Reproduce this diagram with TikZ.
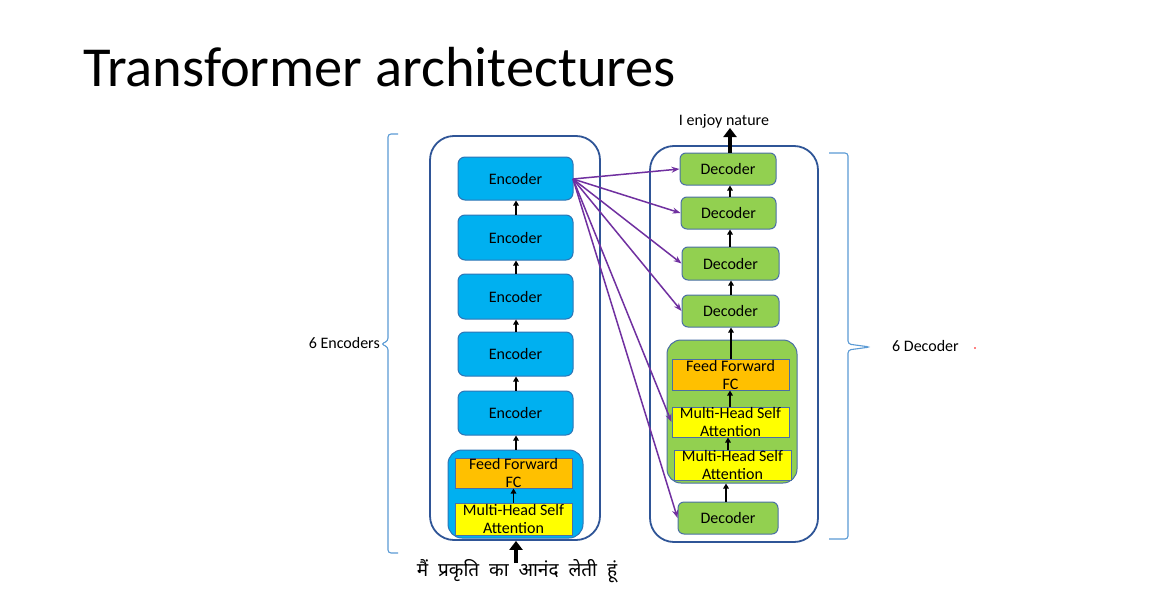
\documentclass[tikz,border=0pt]{standalone}
\usepackage{fontspec}
\setmainfont{Carlito}
\newfontfamily\deva[Script=Devanagari, WordSpace=2]{Noto Sans}
\usetikzlibrary{arrows.meta}

\definecolor{navy}{HTML}{2F5597}
\definecolor{encfill}{HTML}{00B0F0}
\definecolor{encline}{HTML}{2E75B6}
\definecolor{decfill}{HTML}{92D050}
\definecolor{decline}{HTML}{4A6FA5}
\definecolor{ffcol}{HTML}{FFC000}
\definecolor{attcol}{HTML}{FFFF00}
\definecolor{crossc}{HTML}{7030A0}
\definecolor{bracec}{HTML}{5B9BD5}

\tikzset{
  lbl/.style={font=\fontsize{16}{18}\selectfont, align=center, inner sep=0pt},
  outerbox/.style={draw=navy, line width=1.8pt, rounded corners=24pt, inner sep=0pt},
  encbox/.style={draw=encline, fill=encfill, line width=1pt, rounded corners=7pt,
    minimum width=115pt, inner sep=0pt, lbl},
  decbox/.style={draw=decline, fill=decfill, line width=1pt, rounded corners=6pt,
    inner sep=0pt, lbl},
  blockbox/.style={draw=decline, line width=1pt, rounded corners=14pt, inner sep=0pt},
  subbox/.style={draw=decline, line width=1pt, minimum width=117pt, inner sep=0pt},
  flow/.style={draw=black, line width=1.4pt, -{Triangle[length=5pt,width=5.5pt]}},
  bigflow/.style={draw=black, line width=3.5pt, -{Triangle[length=9pt,width=13pt]}},
  cross/.style={draw=crossc, line width=1.5pt, -{Stealth[length=8pt,width=6pt]}},
  brace/.style={draw=bracec, line width=1.1pt, rounded corners=3pt},
  note/.style={font=\fontsize{16}{18}\selectfont, inner sep=0pt},
}

\begin{document}
\begin{tikzpicture}[x=1pt, y=-1pt]
  \useasboundingbox (0,0) rectangle (1161,602);
  \fill[white] (0,0) rectangle (1161,602);

  % title
  \node[anchor=base west, inner sep=0pt, font=\fontsize{56.5}{60}\selectfont] (title) at (83,86) {Transformer architectures};

  % ---------------- encoder stack ----------------
  \node[outerbox, minimum width=170pt, minimum height=404pt] (encstack) at (515,338) {};

  \node[encbox, minimum height=43pt] (e1) at (515.5,178.5) {Encoder};
  \node[encbox, minimum height=45pt] (e2) at (515.5,237.5) {Encoder};
  \node[encbox, minimum height=45pt] (e3) at (515.5,296.5) {Encoder};
  \node[encbox, minimum height=44pt] (e4) at (515.5,354) {Encoder};
  \node[encbox, minimum height=44pt] (e5) at (515.5,413) {Encoder};

  \node[blockbox, draw=encline, fill=encfill, minimum width=135pt, minimum height=88pt] (eblock) at (515.5,494) {};
  \node[subbox, fill=ffcol, minimum height=30pt,
        label={[lbl, name=effl]center:Feed Forward\\FC}] (eff) at (513.5,473) {};
  \node[subbox, fill=attcol, minimum height=32pt,
        label={[lbl, name=eattl]center:Multi-Head Self\\Attention}] (eatt) at (513.5,519) {};

  \draw[flow] (eatt.north) -- (eff.south);
  \draw[flow] (eblock.north -| 516,0) -- (e5.south -| 516,0);
  \draw[flow] (e5.north -| 516,0) -- (e4.south -| 516,0);
  \draw[flow] (e4.north -| 516,0) -- (e3.south -| 516,0);
  \draw[flow] (e3.north -| 516,0) -- (e2.south -| 516,0);
  \draw[flow] (e2.north -| 516,0) -- (e1.south -| 516,0);

  % input sentence
  \node[inner sep=0pt, font=\deva\fontsize{19}{22}\selectfont] (src) at (517,571) {मैं प्रकृति का आनंद लेती हूं};
  \coordinate (srctop) at (516,563);
  \draw[bigflow] (srctop) -- (encstack.south -| srctop);

  % ---------------- decoder stack ----------------
  \node[outerbox, minimum width=168pt, minimum height=396pt] (decstack) at (734,344) {};

  \node[decbox, minimum width=96pt, minimum height=32pt] (d1) at (728,169) {Decoder};
  \node[decbox, minimum width=95pt, minimum height=32pt] (d2) at (728.5,213) {Decoder};
  \node[decbox, minimum width=97pt, minimum height=33pt] (d3) at (730.5,263.5) {Decoder};
  \node[decbox, minimum width=97pt, minimum height=32pt] (d4) at (730.5,311) {Decoder};

  \node[blockbox, fill=decfill, minimum width=130pt, minimum height=143pt] (dblock) at (732,411.5) {};
  \node[subbox, fill=ffcol, minimum height=31pt,
        label={[lbl, name=dffl]center:Feed Forward\\FC}] (dff) at (730.5,374.5) {};
  \node[subbox, fill=attcol, minimum height=30pt,
        label={[lbl, name=datt1l]center:Multi-Head Self\\Attention}] (datt1) at (730.5,422) {};
  \node[subbox, fill=attcol, minimum height=30pt,
        label={[lbl, name=datt2l]center:Multi-Head Self\\Attention}] (datt2) at (732.5,465) {};

  \node[decbox, minimum width=100pt, minimum height=32pt] (d0) at (728,518) {Decoder};

  \draw[flow] (d0.north -| 726,0) -- (dblock.south -| 726,0);
  \draw[flow] (datt2.north -| 728,0) -- (datt1.south -| 728,0);
  \draw[flow] (datt1.north -| 730,0) -- (dff.south -| 730,0);
  \draw[flow] (dff.north -| 731,0) -- (d4.south -| 731,0);
  \draw[flow] (d4.north -| 731,0) -- (d3.south -| 731,0);
  \draw[flow] (d3.north -| 730,0) -- (d2.south -| 730,0);
  \draw[flow] (d2.north -| 730,0) -- (d1.south -| 730,0);

  % output sentence
  \node[note] (tgt) at (724,121) {I enjoy nature};
  \coordinate (tgtbot) at (730,128);
  \draw[bigflow] (d1.north -| tgtbot) -- (tgtbot);

  % encoder output fed to every decoder
  \coordinate (encout) at (573,179);
  \draw[cross] (encout) -- (d1.west);
  \draw[cross] (encout) -- (d2.west);
  \draw[cross] (encout) -- (d3.west);
  \draw[cross] (encout) -- (d4.west);
  \draw[cross] (encout) -- (datt1.west);
  \draw[cross] (encout) -- (d0.west);

  % ---------------- braces ----------------
  \draw[brace] (398,134) -- (388,134) -- (388,341) -- (381,344) -- (388,347) -- (388,553) -- (398,553);
  \node[note, anchor=east] (enccount) at (380,343) {6 Encoders};

  \draw[brace] (829,153) -- (848,153) -- (848,344) -- (870,347) -- (848,350) -- (848,539) -- (829,539);
  \node[note, anchor=west] (deccount) at (892,346) {6 Decoder};
  \fill[red] (975,348) circle (0.8pt);
\end{tikzpicture}
\end{document}
